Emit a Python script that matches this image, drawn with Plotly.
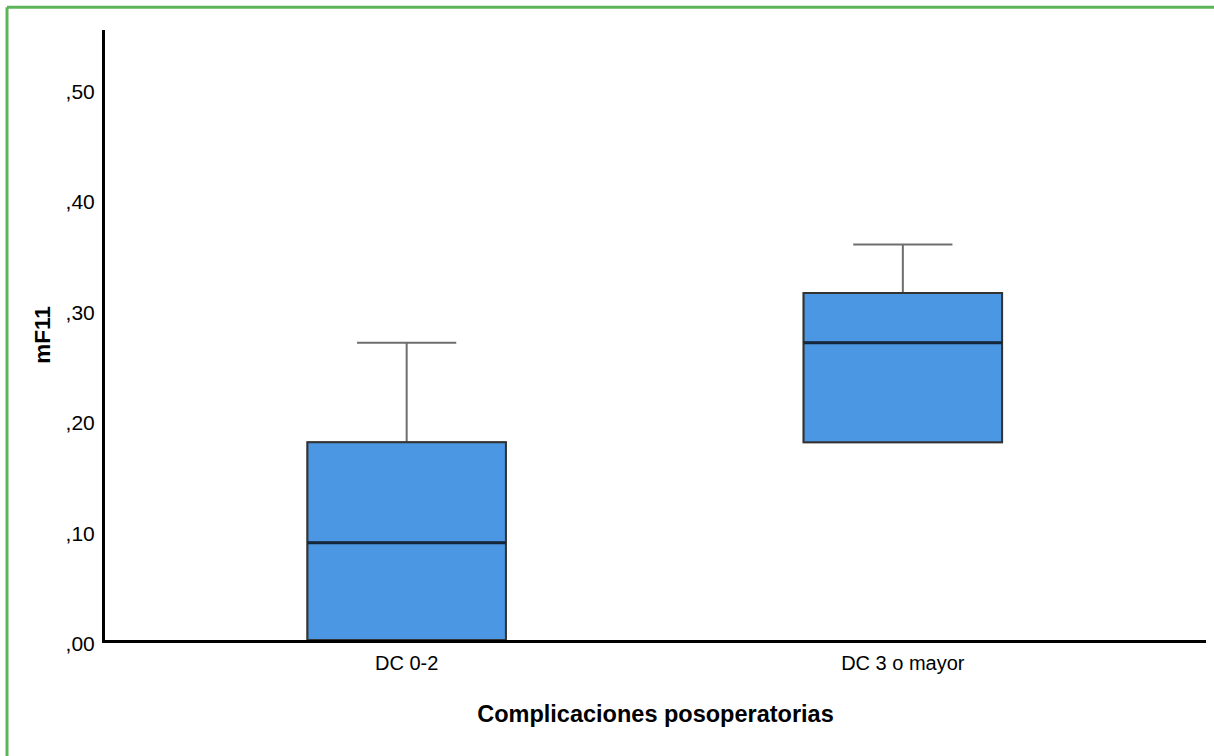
import plotly.graph_objects as go

# Summary statistics of mF11 for each group of postoperative complications
categories = ["DC 0-2", "DC 3 o mayor"]
q1 = [0.0, 0.179]
median = [0.088, 0.269]
q3 = [0.179, 0.314]
lower_whisker = [0.0, 0.179]
upper_whisker = [0.269, 0.358]

y_tick_values = [0.0, 0.1, 0.2, 0.3, 0.4, 0.5]
y_tick_labels = [",00", ",10", ",20", ",30", ",40", ",50"]

FILL = "#4c97e3"
OUTLINE = "#333333"
WHISKER = "#6e6e6e"
MEDIAN = "#14273a"
FONT = "Liberation Sans, Arial, sans-serif"

fig = go.Figure()

# Whiskers and caps (grey)
fig.add_trace(go.Box(
    x=categories, q1=q1, median=median, q3=q3,
    lowerfence=lower_whisker, upperfence=upper_whisker,
    width=0.4, whiskerwidth=0.5,
    fillcolor=FILL, line=dict(color=WHISKER, width=2),
    boxpoints=False, showlegend=False, hoverinfo="skip",
))

# Interquartile boxes with dark outline
fig.add_trace(go.Box(
    x=categories, q1=q1, median=median, q3=q3,
    lowerfence=q1, upperfence=q3,
    width=0.4, whiskerwidth=0,
    fillcolor=FILL, line=dict(color=OUTLINE, width=2),
    boxpoints=False, showlegend=False, hoverinfo="skip",
))

# Heavier median line
fig.add_trace(go.Box(
    x=categories, q1=median, median=median, q3=median,
    lowerfence=median, upperfence=median,
    width=0.4, whiskerwidth=0,
    fillcolor="rgba(0,0,0,0)", line=dict(color=MEDIAN, width=3),
    boxpoints=False, showlegend=False, hoverinfo="skip",
))

# Green frame on the top and left edges
frame = dict(color="#5db55a", width=3)
fig.add_shape(type="line", xref="paper", yref="paper",
              x0=-0.089, x1=1.02, y0=1.0372, y1=1.0372, line=frame)
fig.add_shape(type="line", xref="paper", yref="paper",
              x0=-0.089, x1=-0.089, y0=1.0372, y1=-0.2, line=frame)

fig.update_layout(
    width=1214, height=756,
    margin=dict(l=105, r=8, t=30, b=116),
    paper_bgcolor="white", plot_bgcolor="white",
    boxmode="overlay",
    font=dict(family=FONT, color="black"),
    xaxis=dict(
        type="category", range=[-0.608, 1.611],
        showline=True, linecolor="black", linewidth=3,
        showgrid=False, zeroline=False, ticks="",
        ticklabelstandoff=3,
        tickfont=dict(size=20, family=FONT, color="black"),
        title=dict(text="<b>Complicaciones posoperatorias</b>",
                   font=dict(size=23.5, family=FONT, color="black"),
                   standoff=33),
    ),
    yaxis=dict(
        range=[0, 0.552],
        tickvals=y_tick_values, ticktext=y_tick_labels,
        showline=True, linecolor="black", linewidth=3,
        showgrid=False, zeroline=False, ticks="",
        ticklabelstandoff=3, ticklabelshift=4,
        tickfont=dict(size=21, family=FONT, color="black"),
        title=dict(text="<b>mF11</b>",
                   font=dict(size=22.5, family=FONT, color="black"),
                   standoff=9),
    ),
)

fig.write_html("out.html")
